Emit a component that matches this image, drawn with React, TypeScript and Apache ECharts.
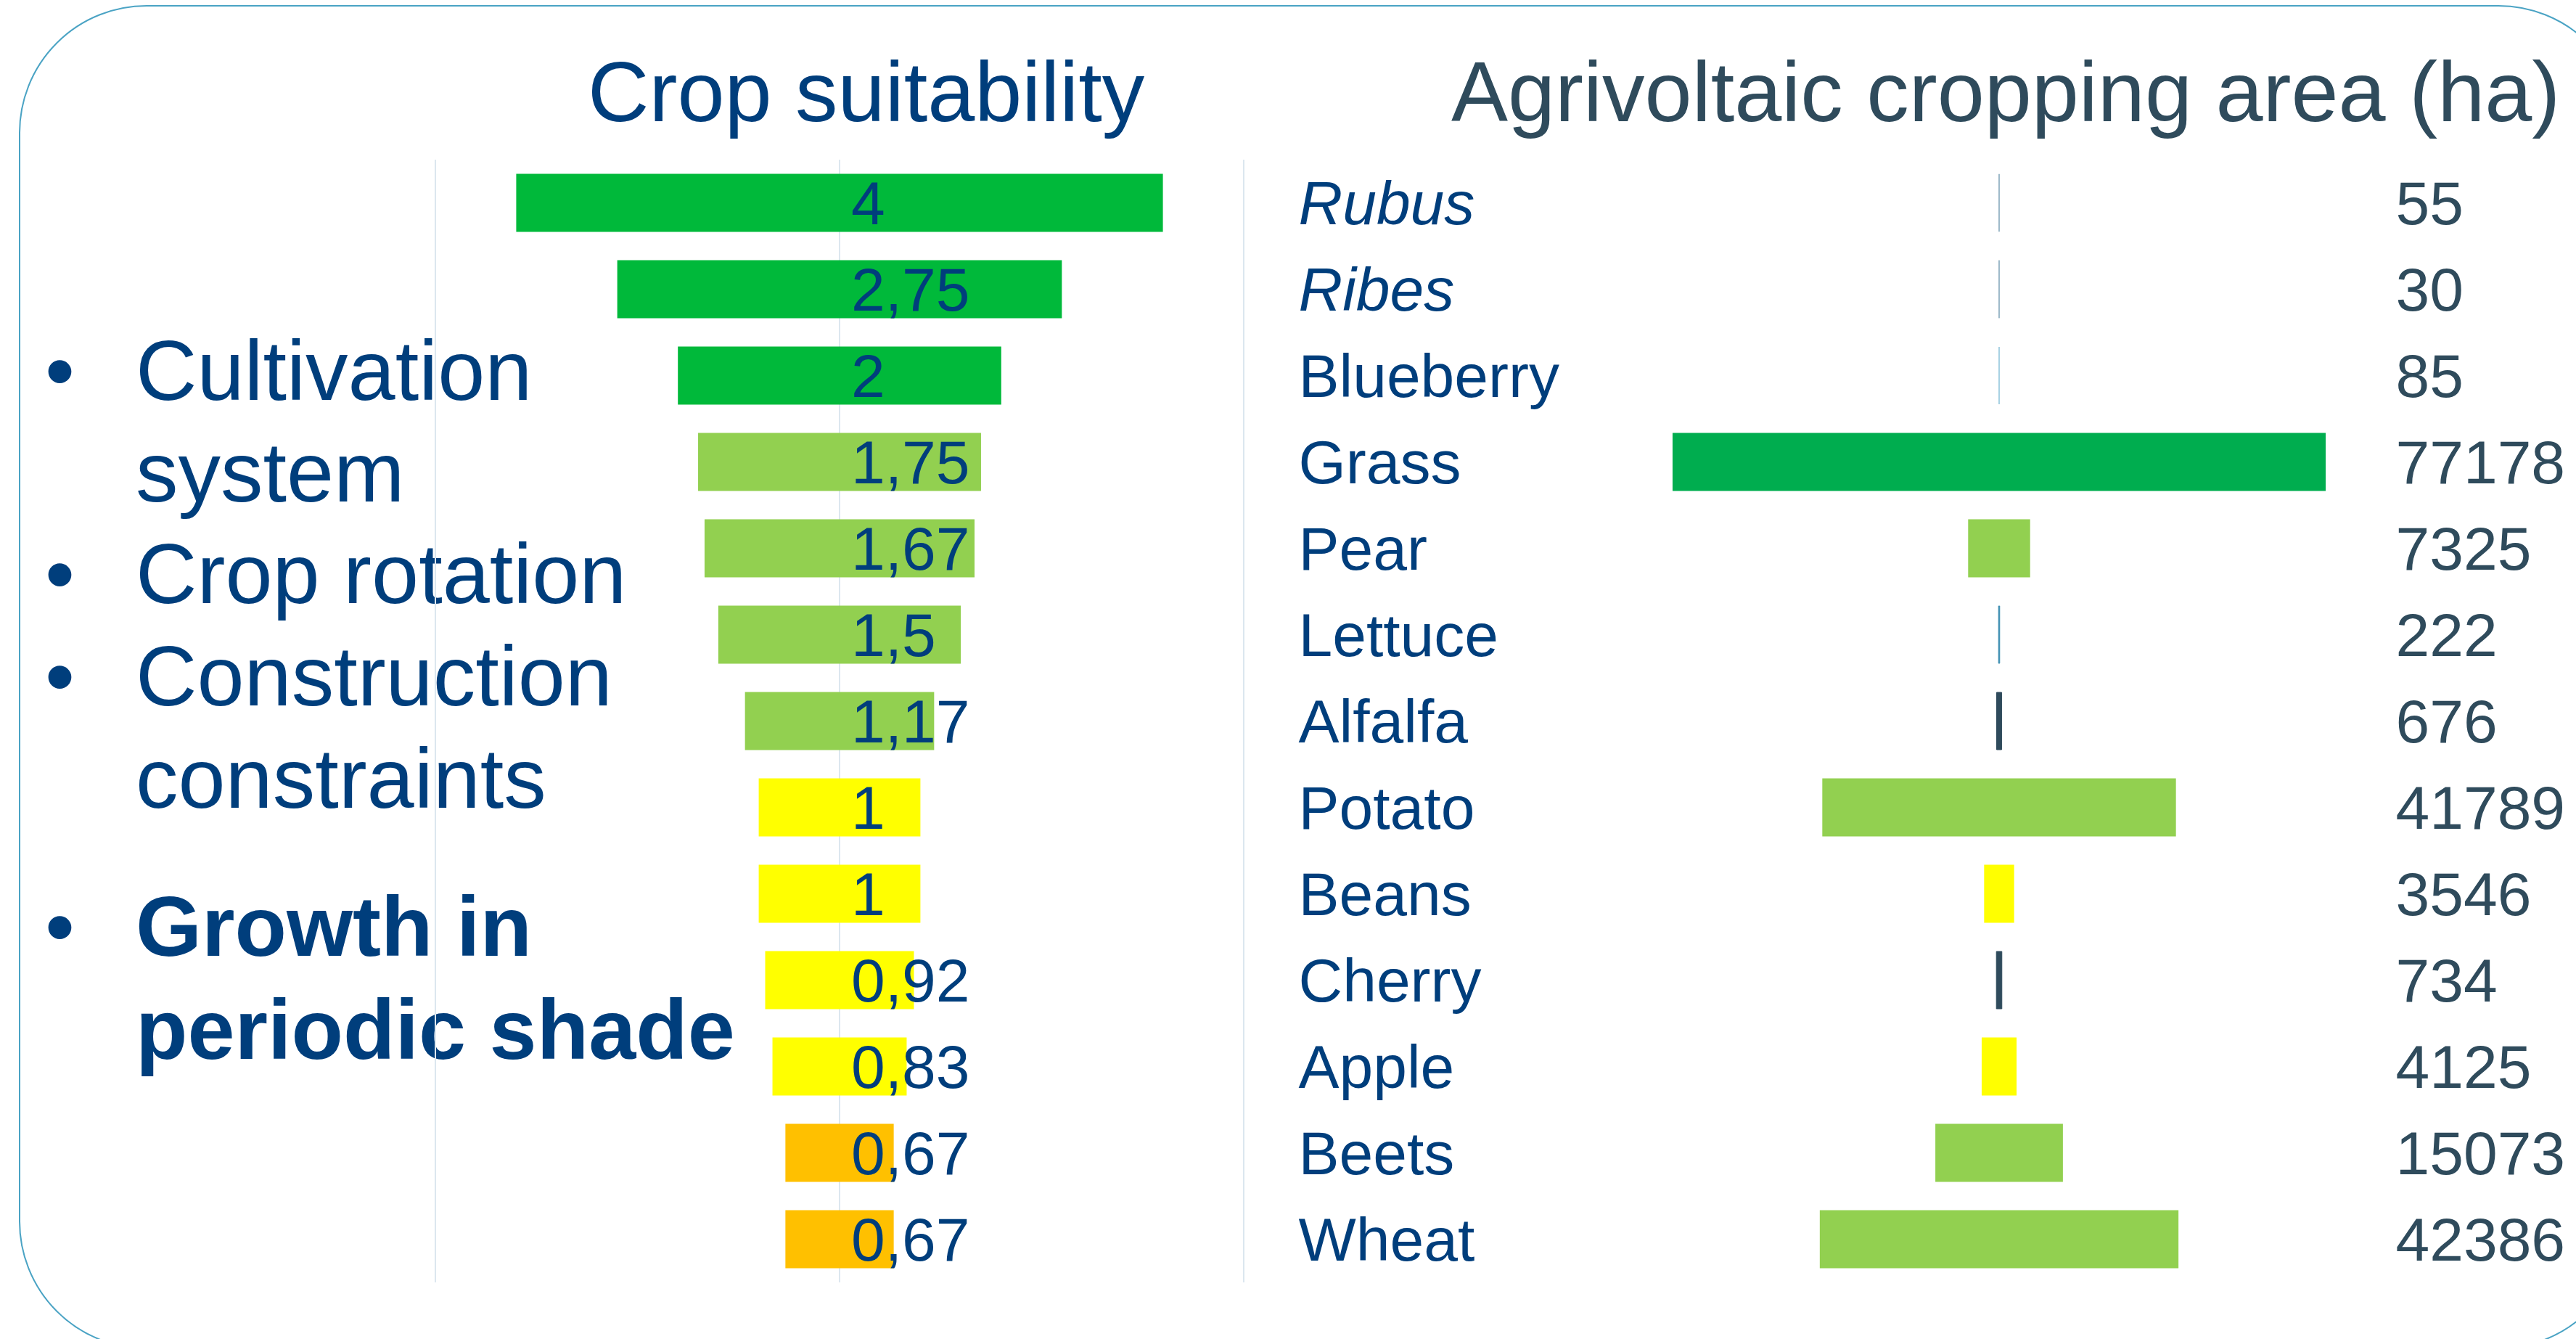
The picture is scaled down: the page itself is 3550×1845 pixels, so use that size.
import React, { useEffect, useRef } from "react";
import * as echarts from "echarts";

const crops = ["Rubus", "Ribes", "Blueberry", "Grass", "Pear", "Lettuce", "Alfalfa", "Potato", "Beans", "Cherry", "Apple", "Beets", "Wheat"];
const italicCrops = ["Rubus", "Ribes"];
const suitability = [4, 2.75, 2, 1.75, 1.67, 1.5, 1.17, 1, 1, 0.92, 0.83, 0.67, 0.67];
const suitabilityColors = [
  "#00B93A", "#00B93A", "#00B93A",
  "#92D050", "#92D050", "#92D050", "#92D050",
  "#FFFF00", "#FFFF00", "#FFFF00", "#FFFF00",
  "#FFC000", "#FFC000",
];
const areaHa = [55, 30, 85, 77178, 7325, 222, 676, 41789, 3546, 734, 4125, 15073, 42386];
const areaColors = [
  "#7FA3B8", "#7FA3B8", "#8CC2DA", "#00AD4F", "#92D050", "#3A8DB0", "#2F4B5C",
  "#92D050", "#FFFF00", "#2F4B5C", "#FFFF00", "#92D050", "#92D050",
];
const bulletLines = [
  { bullet: true, text: "Cultivation", bold: false, baseline: 550 },
  { bullet: false, text: "system", bold: false, baseline: 690 },
  { bullet: true, text: "Crop rotation", bold: false, baseline: 830 },
  { bullet: true, text: "Construction", bold: false, baseline: 971 },
  { bullet: false, text: "constraints", bold: false, baseline: 1112 },
  { bullet: true, text: "Growth in", bold: true, baseline: 1316 },
  { bullet: false, text: "periodic shade", bold: true, baseline: 1458 },
];

const SUIT_MAX = 5;
const AREA_MAX = 80000;
const FONT = '"Liberation Sans", Arial, sans-serif';
const BLUE = "#003E7C";
const SLATE = "#2F4B5C";
const BIG = 117;

export default function App() {
  const ref = useRef<HTMLDivElement>(null);

  useEffect(() => {
    if (!ref.current) return;
    const chart = echarts.init(ref.current, undefined, { renderer: "svg" });

    const fmtNum = (v: number) => String(v).replace(".", ",");

    const textEls: any[] = [];
    bulletLines.forEach((l) => {
      const mid = l.baseline - 40;
      if (l.bullet) {
        textEls.push({
          type: "text",
          style: {
            text: "\u2022", x: 62, y: mid, fontSize: BIG, fontFamily: FONT,
            fill: BLUE, textAlign: "left", textVerticalAlign: "middle",
          },
        });
      }
      textEls.push({
        type: "text",
        style: {
          text: l.text, x: 187, y: mid, fontSize: BIG, fontFamily: FONT,
          fontWeight: l.bold ? "bold" : "normal",
          fill: BLUE, textAlign: "left", textVerticalAlign: "middle",
        },
      });
    });

    const option: any = {
      animation: false,
      backgroundColor: "#FFFFFF",
      grid: [
        { left: 600, width: 1114, top: 220, height: 1547 },
        { left: 2288.5, width: 933, top: 220, height: 1547 },
      ],
      xAxis: [
        {
          type: "value", gridIndex: 0, min: 0, max: SUIT_MAX, interval: 2.5,
          axisLine: { show: false }, axisTick: { show: false }, axisLabel: { show: false },
          splitLine: { show: true, lineStyle: { color: "#DCE7EF", width: 2 } },
        },
        {
          type: "value", gridIndex: 1, min: 0, max: AREA_MAX,
          axisLine: { show: false }, axisTick: { show: false }, axisLabel: { show: false },
          splitLine: { show: false },
        },
      ],
      yAxis: [
        {
          type: "category", gridIndex: 0, data: crops, inverse: true,
          axisLine: { show: false }, axisTick: { show: false }, axisLabel: { show: false },
        },
        {
          type: "category", gridIndex: 1, data: crops, inverse: true, position: "left",
          axisLine: { show: false }, axisTick: { show: false },
          axisLabel: {
            show: true, align: "left", margin: 499,
            formatter: (v: string) => (italicCrops.includes(v) ? `{i|${v}}` : `{n|${v}}`),
            rich: {
              i: { fontStyle: "italic", fontSize: 84, fontFamily: FONT, color: BLUE },
              n: { fontSize: 84, fontFamily: FONT, color: BLUE },
            },
          },
        },
        {
          type: "category", gridIndex: 1, data: areaHa.map((v) => String(v)), inverse: true, position: "right",
          axisLine: { show: false }, axisTick: { show: false },
          axisLabel: { show: true, align: "left", margin: 80, fontSize: 84, fontFamily: FONT, color: SLATE },
        },
      ],
      series: [
        {
          type: "bar", xAxisIndex: 0, yAxisIndex: 0, stack: "suit", silent: true, barWidth: 80,
          data: suitability.map((v) => (SUIT_MAX - v) / 2),
          itemStyle: { color: "rgba(0,0,0,0)" },
        },
        {
          type: "bar", xAxisIndex: 0, yAxisIndex: 0, stack: "suit", barWidth: 80,
          data: suitability.map((v, i) => ({ value: v, itemStyle: { color: suitabilityColors[i] } })),
        },
        {
          type: "scatter", xAxisIndex: 0, yAxisIndex: 0, symbolSize: 0, z: 5,
          data: suitability.map((v, i) => ({ value: [SUIT_MAX / 2, i], name: fmtNum(v) })),
          label: {
            show: true, position: "right", distance: 16,
            formatter: (p: any) => p.name,
            fontSize: 84, fontFamily: FONT, color: BLUE, opacity: 1,
          },
        },
        {
          type: "bar", xAxisIndex: 1, yAxisIndex: 1, stack: "area", silent: true, barWidth: 80,
          data: areaHa.map((v) => (AREA_MAX - v) / 2),
          itemStyle: { color: "rgba(0,0,0,0)" },
        },
        {
          type: "bar", xAxisIndex: 1, yAxisIndex: 1, stack: "area", barWidth: 80,
          data: areaHa.map((v, i) => ({
            value: v,
            itemStyle: {
              color: areaColors[i],
              borderColor: v < 1000 ? areaColors[i] : undefined,
              borderWidth: v < 1000 ? 1 : 0,
            },
          })),
        },
      ],
      graphic: [
        {
          type: "rect", silent: true, z: -1,
          shape: { x: 27, y: 8, width: 3591, height: 1850, r: 175 },
          style: { fill: "none", stroke: "#4AA3C4", lineWidth: 2 },
        },
        {
          type: "text",
          style: {
            text: "Crop suitability", x: 810, y: 126, fontSize: BIG, fontFamily: FONT,
            fill: BLUE, textAlign: "left", textVerticalAlign: "middle",
          },
        },
        {
          type: "text",
          style: {
            text: "Agrivoltaic cropping area (ha)", x: 2000, y: 126, fontSize: BIG, fontFamily: FONT,
            fill: SLATE, textAlign: "left", textVerticalAlign: "middle",
          },
        },
        ...textEls,
      ],
    };

    chart.setOption(option);
    return () => chart.dispose();
  }, []);

  return (
    <div
      ref={ref}
      style={{ position: "absolute", left: 0, top: 0, width: 3550, height: 1845 }}
    />
  );
}
